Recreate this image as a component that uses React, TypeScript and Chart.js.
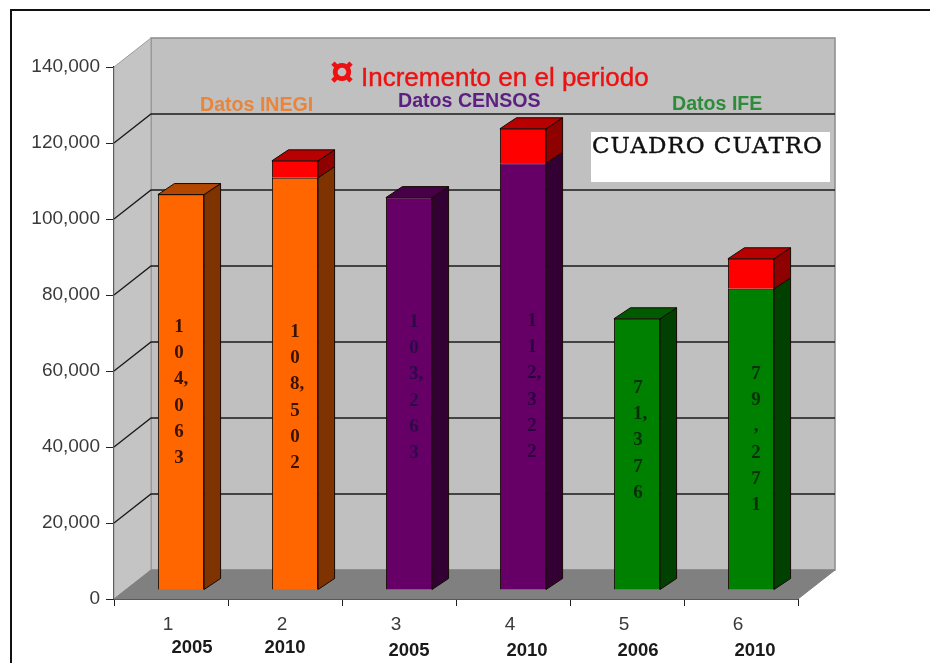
import React, { useEffect, useRef } from "react";
import { Chart, registerables } from "chart.js";

Chart.register(...registerables);

const categories = ["1", "2", "3", "4", "5", "6"];
const years = ["2005", "2010", "2005", "2010", "2006", "2010"];
const baseValues = [104063, 108500, 103263, 112322, 71376, 79271];
const increments = [null, 4437, null, 9059, null, 7895];
const barColors = ["#FF6600", "#FF6600", "#660066", "#660066", "#008000", "#008000"];
const sideColors = ["#7F3300", "#7F3300", "#330033", "#330033", "#004000", "#004000"];
const topColors = ["#B34700", "#B34700", "#470047", "#470047", "#005A00", "#005A00"];
const valueLabels = [
  ["1", "0", "4,", "0", "6", "3"],
  ["1", "0", "8,", "5", "0", "2"],
  ["1", "0", "3,", "2", "6", "3"],
  ["1", "1", "2,", "3", "2", "2"],
  ["7", "1,", "3", "7", "6"],
  ["7", "9", ",", "2", "7", "1"],
];
const valueLabelColors = ["#3A1200", "#3A1200", "#2C0A4A", "#2A0040", "#053005", "#053005"];
const yTicks = [0, 20000, 40000, 60000, 80000, 100000, 120000, 140000];
const legendText = "Incremento en el periodo";
const groupNotes = ["Datos INEGI", "Datos CENSOS", "Datos IFE"];
const boxTitle = "CUADRO CUATRO";

const WALL_DX = 37;
const WALL_DY = -29;
const BAR_DX = 10;
const BAR_DY = -9;
const DEPTH_DX = 16.5;
const DEPTH_DY = -11;

function poly(ctx: CanvasRenderingContext2D, pts: number[][], fill: string | null, stroke: string | null, lw = 1) {
  ctx.beginPath();
  pts.forEach((p, i) => (i ? ctx.lineTo(p[0], p[1]) : ctx.moveTo(p[0], p[1])));
  ctx.closePath();
  if (fill) {
    ctx.fillStyle = fill;
    ctx.fill();
  }
  if (stroke) {
    ctx.strokeStyle = stroke;
    ctx.lineWidth = lw;
    ctx.stroke();
  }
}

const scene3d = {
  id: "scene3d",
  beforeDatasetsDraw(chart: any) {
    const ctx: CanvasRenderingContext2D = chart.ctx;
    const { left, right, top, bottom } = chart.chartArea;
    const y = chart.scales.y;
    ctx.save();
    // page frame
    ctx.strokeStyle = "#111111";
    ctx.lineWidth = 2;
    ctx.beginPath();
    ctx.moveTo(11, 663);
    ctx.lineTo(11, 10);
    ctx.lineTo(930, 10);
    ctx.stroke();
    // walls
    poly(ctx, [[left + WALL_DX, top + WALL_DY], [right + WALL_DX, top + WALL_DY], [right + WALL_DX, bottom + WALL_DY], [left + WALL_DX, bottom + WALL_DY]], "#C0C0C0", "#8C8C8C", 1.5);
    poly(ctx, [[left, top], [left + WALL_DX, top + WALL_DY], [left + WALL_DX, bottom + WALL_DY], [left, bottom]], "#C4C4C4", "#9A9A9A", 1);
    poly(ctx, [[left, bottom], [left + WALL_DX, bottom + WALL_DY], [right + WALL_DX, bottom + WALL_DY], [right, bottom]], "#808080", "#808080", 1);
    // gridlines
    ctx.strokeStyle = "#1A1A1A";
    ctx.lineWidth = 1.3;
    yTicks.forEach((v) => {
      if (v === 0 || v === 140000) return;
      const py = y.getPixelForValue(v);
      ctx.beginPath();
      ctx.moveTo(left, py);
      ctx.lineTo(left + WALL_DX, py + WALL_DY);
      ctx.lineTo(right + WALL_DX, py + WALL_DY);
      ctx.stroke();
    });
    ctx.restore();
    ctx.save();
    ctx.translate(BAR_DX, BAR_DY);
  },
  afterDatasetsDraw(chart: any) {
    const ctx: CanvasRenderingContext2D = chart.ctx;
    const meta0 = chart.getDatasetMeta(0).data;
    const meta1 = chart.getDatasetMeta(1).data;
    const edge = "#160A05";
    categories.forEach((_, i) => {
      const a = meta0[i];
      const half = a.width / 2;
      const xr = a.x + half;
      const xl = a.x - half;
      poly(ctx, [[xr, a.base], [xr + DEPTH_DX, a.base + DEPTH_DY], [xr + DEPTH_DX, a.y + DEPTH_DY], [xr, a.y]], sideColors[i], edge, 1);
      let topY = a.y;
      let topFill = topColors[i];
      if (increments[i] != null) {
        const b = meta1[i];
        poly(ctx, [[xr, b.base], [xr + DEPTH_DX, b.base + DEPTH_DY], [xr + DEPTH_DX, b.y + DEPTH_DY], [xr, b.y]], "#8F0000", edge, 1);
        topY = b.y;
        topFill = "#B80000";
      }
      poly(ctx, [[xl, topY], [xl + DEPTH_DX, topY + DEPTH_DY], [xr + DEPTH_DX, topY + DEPTH_DY], [xr, topY]], topFill, edge, 1);
    });
    ctx.restore();
  },
  afterDraw(chart: any) {
    const ctx: CanvasRenderingContext2D = chart.ctx;
    const xs = chart.scales.x;
    ctx.save();
    ctx.textBaseline = "middle";
    ctx.textAlign = "center";

    // stacked value labels inside the bars
    const labelDx = [-2, 0, 5, 9, 1, 5];
    const labelStart = [327, 332, 322, 321, 388, 374];
    ctx.font = "bold 19px 'Liberation Serif'";
    valueLabels.forEach((chars, i) => {
      const cx = chart.getDatasetMeta(0).data[i].x + BAR_DX + labelDx[i];
      ctx.fillStyle = valueLabelColors[i];
      chars.forEach((c, k) => {
        // keep digits centred: a trailing comma hangs to the right
        ctx.textAlign = c.length > 1 ? "left" : "center";
        const off = c.length > 1 ? -5 : 0;
        ctx.fillText(c, cx + off, labelStart[i] + k * 26.2);
      });
    });
    ctx.textAlign = "center";

    // year captions
    const yearDx = [21, 0, 10, 14, 11, 14];
    const yearY = [648, 648, 651, 651, 651, 651];
    ctx.font = "bold 18.5px 'Liberation Sans'";
    ctx.fillStyle = "#1A1A1A";
    years.forEach((t, i) => ctx.fillText(t, xs.getPixelForTick(i) + yearDx[i], yearY[i]));

    // legend
    ctx.fillStyle = "#EE1111";
    ctx.font = "bold 43px 'Liberation Sans'";
    ctx.fillText("\u00A4", 342, 74);
    ctx.textAlign = "left";
    ctx.font = "26px 'Liberation Sans'";
    ctx.strokeStyle = "#EE1111";
    ctx.lineWidth = 0.4;
    ctx.fillText(legendText, 361, 79);
    ctx.strokeText(legendText, 361, 79);

    // group notes
    ctx.font = "bold 19.6px 'Liberation Sans'";
    ctx.fillStyle = "#E8853A";
    ctx.fillText(groupNotes[0], 200, 106);
    ctx.fillStyle = "#5C2083";
    ctx.fillText(groupNotes[1], 398, 102);
    ctx.fillStyle = "#2E8B3A";
    ctx.fillText(groupNotes[2], 672, 105);

    // white title box
    ctx.fillStyle = "#FFFFFF";
    ctx.fillRect(591, 132, 239, 50);
    ctx.fillStyle = "#111111";
    ctx.strokeStyle = "#111111";
    ctx.lineWidth = 0.4;
    ctx.font = "23px 'DejaVu Serif'";
    (ctx as any).letterSpacing = "1px";
    ctx.fillText(boxTitle, 592, 147.5);
    ctx.strokeText(boxTitle, 592, 147.5);
    (ctx as any).letterSpacing = "0px";
    ctx.restore();
  },
};

export default function App() {
  const ref = useRef<HTMLCanvasElement>(null);
  useEffect(() => {
    const chart = new Chart(ref.current!, {
      type: "bar",
      data: {
        labels: categories,
        datasets: [
          {
            label: "Datos",
            data: baseValues,
            backgroundColor: barColors,
            borderColor: "#160A05",
            borderWidth: 1,
            barPercentage: 0.405,
            categoryPercentage: 1,
            clip: false,
          },
          {
            label: legendText,
            data: increments,
            backgroundColor: "#FF0000",
            borderColor: "#160A05",
            borderWidth: 1,
            barPercentage: 0.405,
            categoryPercentage: 1,
            clip: false,
          },
        ],
      } as any,
      options: {
        responsive: false,
        animation: false,
        devicePixelRatio: 1,
        layout: { padding: { left: 0, right: 132, top: 67, bottom: 0 } },
        plugins: { legend: { display: false }, tooltip: { enabled: false }, title: { display: false } },
        scales: {
          x: {
            stacked: true,
            afterFit: (s: any) => {
              s.height = 64;
            },
            grid: { drawOnChartArea: false, drawTicks: true, tickLength: 7, color: "#222222" },
            border: { display: true, color: "#333333", width: 2 },
            ticks: {
              color: "#3A3A3A",
              font: { family: "'Liberation Sans'", size: 19 },
              padding: 7,
              labelOffset: -3,
              maxRotation: 0,
            },
          },
          y: {
            stacked: true,
            min: 0,
            max: 140000,
            afterFit: (s: any) => {
              s.width = 114;
            },
            afterBuildTicks: (s: any) => {
              s.ticks = yTicks.map((value) => ({ value }));
            },
            grid: { drawOnChartArea: false, drawTicks: true, tickLength: 8, color: "#222222" },
            border: { display: true, color: "#222222", width: 1.5 },
            ticks: {
              color: "#3A3A3A",
              font: { family: "'Liberation Sans'", size: 19 },
              padding: 6,
              callback: (v: any) => Number(v).toLocaleString("en-US"),
            },
          },
        },
      },
      plugins: [scene3d],
    } as any);
    return () => chart.destroy();
  }, []);
  return (
    <div style={{ position: "absolute", left: 0, top: 0, width: 930, height: 663, background: "#fff", overflow: "hidden" }}>
      <canvas ref={ref} width={930} height={663} style={{ display: "block", filter: "blur(0.4px)" }} />
    </div>
  );
}
